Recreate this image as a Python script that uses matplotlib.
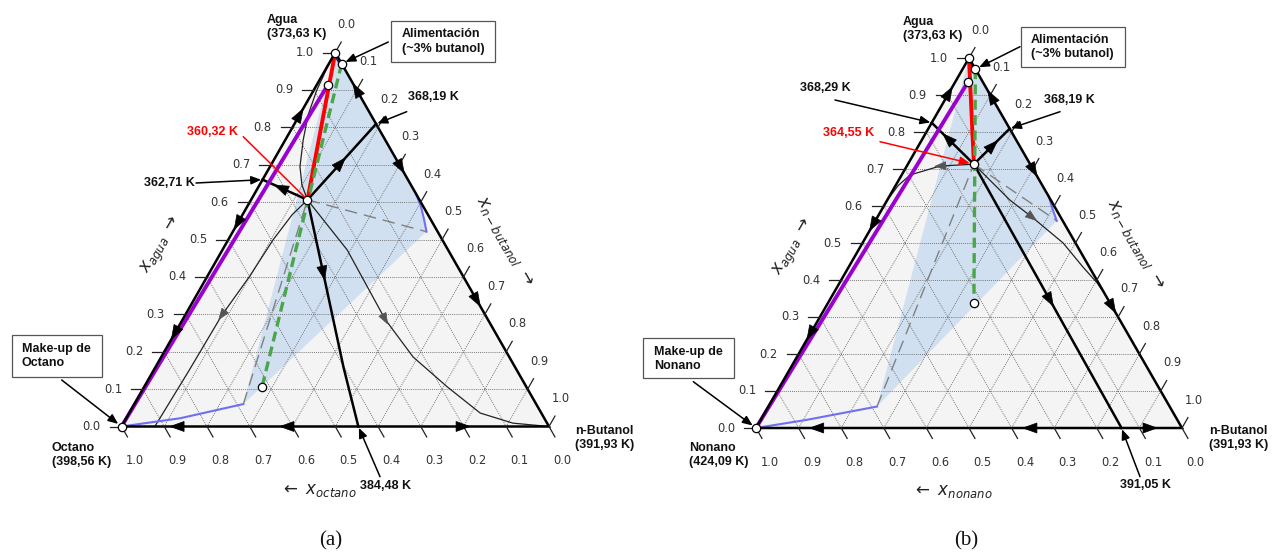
import numpy as np
import matplotlib
matplotlib.use("Agg")
import matplotlib.pyplot as plt
from matplotlib.patches import Polygon, Rectangle

plt.rcParams['font.family'] = ['DejaVu Sans']
plt.rcParams['mathtext.fontset'] = 'dejavusans'

FIG_W, FIG_H = 1276, 554

ticks = [round(0.1 * i, 1) for i in range(11)]
tick_labels = [f'{t:.1f}' for t in ticks]

# Compositions are (x_agua, x_n-butanol); the alkane fraction is the remainder.
# ---------------- panel (a): agua / n-butanol / octano ----------------
a_feed = (0.97, 0.03)
a_makeup = (0.913, 0.026)
a_az_tern = (0.606, 0.132)
a_mix_end = (0.105, 0.276)
a_az_wb = (0.809, 0.191)
a_az_wa = (0.66, 0.0)
a_az_ba = (0.0, 0.554)
a_bin_aq = [(0.624, 0.376), (0.590, 0.405), (0.555, 0.430), (0.521, 0.453)]
a_bin_org = [(0.0, 0.0), (0.022, 0.126), (0.060, 0.255)]
a_bin_top = [(1.0, 0.0), (0.985, 0.010), (0.965, 0.030)]
a_bnd_ba = [(0.606, 0.132), (0.410, 0.267), (0.160, 0.439), (0.0, 0.554)]
a_rc_top = [(1.0, 0.0), (0.953, 0.002), (0.900, 0.007), (0.833, 0.020),
            (0.766, 0.042), (0.695, 0.070), (0.646, 0.099), (0.606, 0.132)]
a_rc_left = [(0.606, 0.132), (0.566, 0.116), (0.499, 0.105), (0.402, 0.099),
             (0.298, 0.086), (0.146, 0.083), (0.0, 0.078)]
a_rc_right = [(0.606, 0.132), (0.472, 0.292), (0.287, 0.473), (0.186, 0.589),
              (0.106, 0.709), (0.036, 0.821), (0.009, 0.911), (0.0, 1.0)]
a_arrows_left_edge = [(0.833, 1), (0.544, -1), (0.25, -1)]
a_arrows_right_edge = [(0.90, 1), (0.694, -1), (0.338, -1)]
a_arrows_bottom_edge = [(0.13, -1), (0.387, -1), (0.799, 1)]
a_arrow_bnd_wb = (0.705, 0.159)
a_arrow_bnd_wa = (0.638, 0.054)
a_arrow_bnd_ba = (0.410, 0.267)
a_arrow_rc_left = (0.298, 0.086)
a_arrow_rc_right = (0.287, 0.473)

# ---------------- panel (b): agua / n-butanol / nonano ----------------
b_feed = (0.97, 0.03)
b_makeup = (0.936, 0.030)
b_az_tern = (0.713, 0.155)
b_mix_end = (0.339, 0.342)
b_az_wb = (0.809, 0.191)
b_az_wa = (0.825, 0.0)
b_az_ba = (0.0, 0.858)
b_bin_aq = [(0.625, 0.375), (0.592, 0.400), (0.560, 0.426)]
b_bin_org = [(0.0, 0.0), (0.022, 0.108), (0.058, 0.255)]
b_bin_top = [(1.0, 0.0), (0.985, 0.010), (0.965, 0.030)]
b_bnd_ba = [(0.713, 0.155), (0.0, 0.858)]
b_rc_top = []
b_rc_left = [(0.713, 0.155), (0.708, 0.078), (0.684, 0.020), (0.655, 0.006),
             (0.62, 0.001), (0.55, 0.0)]
b_rc_right = [(0.713, 0.155), (0.616, 0.288), (0.570, 0.363), (0.500, 0.471),
              (0.435, 0.550), (0.392, 0.605), (0.36, 0.64)]
b_arrows_left_edge = [(0.905, 1), (0.55, -1), (0.256, -1)]
b_arrows_right_edge = [(0.895, 1), (0.697, -1), (0.328, -1)]
b_arrows_bottom_edge = [(0.1425, -1), (0.643, -1), (0.925, 1)]
b_arrow_bnd_wb = (0.765, 0.171)
b_arrow_bnd_wa = (0.778, 0.058)
b_arrow_bnd_ba = (0.346, 0.517)
b_arrow_rc_left = (0.711, 0.077)
b_arrow_rc_right = (0.570, 0.363)


def cart(w, b):
    return (b + 0.5 * w, w)


def cart_list(pts):
    arr = np.asarray(pts, float)
    return arr[:, 1] + 0.5 * arr[:, 0], arr[:, 0]


def fp(x, y):
    return (x / FIG_W, 1 - y / FIG_H)


def shift(ax, xy, dx, dy):
    d = ax.transData.transform(xy)
    return ax.transData.inverted().transform((d[0] + dx, d[1] - dy))


def head(ax, pts, at, sense=1, L=14, W=10, color='k', z=6):
    xy = np.array([cart(*p) for p in pts])
    disp = ax.transData.transform(xy)
    q = ax.transData.transform(cart(*at))
    best = None
    for i in range(len(disp) - 1):
        p0, p1 = disp[i], disp[i + 1]
        d = p1 - p0
        t = np.clip(np.dot(q - p0, d) / np.dot(d, d), 0, 1)
        proj = p0 + t * d
        dist = np.linalg.norm(q - proj)
        if best is None or dist < best[0]:
            best = (dist, proj, d / np.linalg.norm(d))
    _, c, u = best
    u = u * sense
    n = np.array([-u[1], u[0]])
    tip = c + u * L / 2
    base = c - u * L / 2
    tri = np.array([tip, base + n * W / 2, base - n * W / 2])
    ax.add_patch(Polygon(ax.transData.inverted().transform(tri), closed=True,
                         fc=color, ec=color, lw=0.5, zorder=z))


def line(ax, pts, **kw):
    x, y = cart_list(pts)
    ax.plot(x, y, **kw)


def draw_panel(ax, feed, makeup, az_tern, mix_end, az_wb, az_wa, az_ba,
               bin_aq, bin_org, bin_top, bnd_ba, rc_top, rc_left, rc_right,
               ar_left, ar_right, ar_bottom, ar_wb, ar_wa, ar_ba, ar_rl, ar_rr):
    W, O, B = (1.0, 0.0), (0.0, 0.0), (0.0, 1.0)
    ax.add_patch(Polygon([cart(*W), cart(*O), cart(*B)], closed=True,
                         fc='#f4f4f4', ec='none', zorder=0))
    shade = [W] + bin_aq + [bin_org[-1]]
    ax.add_patch(Polygon([cart(*p) for p in shade], closed=True,
                         fc='#d1e0f0', ec='none', zorder=1))
    for v in ticks[1:-1]:
        for seg in ([(v, 0), (v, 1 - v)], [(0, v), (1 - v, v)], [(0, 1 - v), (1 - v, 0)]):
            line(ax, seg, color='#666666', lw=0.65, ls=(0, (1, 1.3)), zorder=2)

    # residue curves
    for rc in (rc_top, rc_left, rc_right):
        if rc:
            line(ax, rc, color='#222222', lw=0.9, zorder=3)
    # tie lines of the heterogeneous azeotrope
    line(ax, [az_tern, bin_aq[-1]], color='#808080', lw=1.0, dashes=(9, 5), zorder=3)
    line(ax, [bin_org[-1], az_tern], color='#808080', lw=1.0, dashes=(9, 5), zorder=3)
    # binodal
    line(ax, bin_aq, color='#6f6ff2', lw=1.5, zorder=3)
    line(ax, bin_org, color='#6f6ff2', lw=1.5, zorder=3)
    line(ax, bin_top, color='#1a1a80', lw=1.2, zorder=3)
    # distillation boundaries
    line(ax, [az_tern, az_wb], color='k', lw=1.8, zorder=4)
    line(ax, [az_tern, az_wa], color='k', lw=1.8, zorder=4)
    line(ax, bnd_ba, color='k', lw=1.8, zorder=4)
    # decanter / column lines
    line(ax, [makeup, O], color='#9a00cf', lw=2.8, zorder=4)
    line(ax, [W, az_tern], color='#ff0000', lw=2.8, zorder=4.5)
    line(ax, [feed, mix_end], color='#4aa64a', lw=2.4, dashes=(3, 1.6), zorder=4.6)
    # triangle frame
    x, y = cart_list([W, O, B, W])
    ax.plot(x, y, color='k', lw=1.8, zorder=5, solid_joinstyle='miter')

    # direction arrows
    for v, s in ar_left:
        head(ax, [O, W], (v, 0.0), s)
    for v, s in ar_right:
        head(ax, [B, W], (v, 1 - v), s)
    for v, s in ar_bottom:
        head(ax, [O, B], (0.0, v), s)
    head(ax, [az_tern, az_wb], ar_wb, 1)
    head(ax, [az_tern, az_wa], ar_wa, 1)
    head(ax, bnd_ba, ar_ba, 1)
    head(ax, rc_left, ar_rl, 1, L=11, W=8, color='#555555')
    head(ax, rc_right, ar_rr, 1, L=11, W=8, color='#555555')

    # composition markers
    for p in (W, feed, makeup, az_tern, mix_end, O):
        ax.plot(*cart(*p), 'o', ms=6, mfc='white', mec='k', mew=0.9, zorder=7)

    # ticks and tick labels
    tk = dict(color='#222222', lw=0.9, zorder=5, clip_on=False)
    lab = dict(fontsize=8.3, color='#333333', ha='center', va='center')
    for v, t in zip(ticks, tick_labels):
        p = cart(v, 0.0)
        q = shift(ax, p, -12, 0)
        ax.plot([p[0], q[0]], [p[1], q[1]], **tk)
        ax.text(*shift(ax, p, -30, 0), t, **lab)
        p = cart(0.0, 1 - v)
        q = shift(ax, p, 0.496 * 12, 0.868 * 12)
        ax.plot([p[0], q[0]], [p[1], q[1]], **tk)
        ax.text(*shift(ax, p, 13.5, 34.5), t, **lab)
        p = cart(1 - v, v)
        q = shift(ax, p, 0.496 * 12, -0.868 * 12)
        ax.plot([p[0], q[0]], [p[1], q[1]], **tk)
        ax.text(*shift(ax, p, 11.5, -28), t, **lab)


fig = plt.figure(figsize=(FIG_W / 100, FIG_H / 100), dpi=100)
ax_a = fig.add_axes([0, 0, 0.5, 1])
ax_b = fig.add_axes([0.5, 0, 0.5, 1])
ax_a.set_xlim((0 - 121.5) / 427.5, (638 - 121.5) / 427.5)
ax_a.set_ylim((426.5 - 554) / 374, 426.5 / 374)
ax_b.set_xlim((638 - 756) / 426, (1276 - 756) / 426)
ax_b.set_ylim((428 - 554) / 370, 428 / 370)
for ax in (ax_a, ax_b):
    ax.set_axis_off()

draw_panel(ax_a, a_feed, a_makeup, a_az_tern, a_mix_end, a_az_wb, a_az_wa, a_az_ba,
           a_bin_aq, a_bin_org, a_bin_top, a_bnd_ba, a_rc_top, a_rc_left, a_rc_right,
           a_arrows_left_edge, a_arrows_right_edge, a_arrows_bottom_edge,
           a_arrow_bnd_wb, a_arrow_bnd_wa, a_arrow_bnd_ba, a_arrow_rc_left, a_arrow_rc_right)
draw_panel(ax_b, b_feed, b_makeup, b_az_tern, b_mix_end, b_az_wb, b_az_wa, b_az_ba,
           b_bin_aq, b_bin_org, b_bin_top, [b_az_tern, b_az_ba], b_rc_top, b_rc_left, b_rc_right,
           b_arrows_left_edge, b_arrows_right_edge, b_arrows_bottom_edge,
           b_arrow_bnd_wb, b_arrow_bnd_wa, b_arrow_bnd_ba, b_arrow_rc_left, b_arrow_rc_right)

BOLD = dict(family=['Liberation Sans', 'DejaVu Sans'], fontweight='bold', fontsize=9,
            color='#111111', ha='left', va='center', linespacing=1.25)


def label(x, y, s, **kw):
    opts = dict(BOLD)
    opts.update(kw)
    fig.text(*fp(x, y), s, **opts)


def box(x0, y0, x1, y1):
    fig.patches.append(Rectangle(fp(x0, y1), (x1 - x0) / FIG_W, (y1 - y0) / FIG_H,
                                 transform=fig.transFigure, fc='white', ec='#555555',
                                 lw=0.9, zorder=2))


def leader(ax, x, y, target, color='k', arrow=True, shrink=3):
    style = '-|>,head_length=0.6,head_width=0.25' if arrow else '-'
    ax.annotate('', xy=cart(*target), xycoords='data', xytext=fp(x, y),
                textcoords='figure fraction',
                arrowprops=dict(arrowstyle=style, color=color, lw=1.1, mutation_scale=10,
                                shrinkA=0, shrinkB=shrink), zorder=8)


# axis titles
AX = dict(fontsize=12, ha='center', va='center', color='#222222')
fig.text(*fp(162, 245), r'$x_{agua}\ \rightarrow$', rotation=60, **AX)
fig.text(*fp(505, 241), r'$x_{n-butanol}\ \rightarrow$', rotation=-60, **AX)
fig.text(*fp(318, 490), r'$\leftarrow\ x_{octano}$', **AX)
fig.text(*fp(794, 247), r'$x_{agua}\ \rightarrow$', rotation=60, **AX)
fig.text(*fp(1136, 244), r'$x_{n-butanol}\ \rightarrow$', rotation=-60, **AX)
fig.text(*fp(952, 491), r'$\leftarrow\ x_{nonano}$', **AX)

# panel (a) annotations
label(266.7, 27, 'Agua\n(373,63 K)')
label(51.7, 455, 'Octano\n(398,56 K)')
label(575, 438, 'n-Butanol\n(391,93 K)')
label(408.3, 97, '368,19 K')
label(144, 183.3, '362,71 K')
label(187.3, 131.7, '360,32 K', color='#ff0000')
label(360, 486, '384,48 K')
box(390.7, 20.7, 495, 61.7)
label(401.7, 41.5, 'Alimentación\n(~3% butanol)')
box(11.7, 335, 102.3, 376.7)
label(21.7, 355.8, 'Make-up de\nOctano')
leader(ax_a, 388.3, 42, a_feed)
leader(ax_a, 406.7, 111.7, a_az_wb, shrink=1)
leader(ax_a, 196, 183, a_az_wa, shrink=1)
leader(ax_a, 243.3, 136.7, a_az_tern, color='#ff0000', arrow=False)
leader(ax_a, 380, 476.7, a_az_ba, shrink=1)
leader(ax_a, 61.7, 380, (0.0, 0.0))

# panel (b) annotations
label(902.7, 29, 'Agua\n(373,63 K)')
label(689.3, 455.3, 'Nonano\n(424,09 K)')
label(1209.3, 438, 'n-Butanol\n(391,93 K)')
label(1044, 100, '368,19 K')
label(800, 88, '368,29 K')
label(823.3, 133.3, '364,55 K', color='#ff0000')
label(1120, 485, '391,05 K')
box(1020.7, 26.7, 1125, 66.7)
label(1030.7, 47, 'Alimentación\n(~3% butanol)')
box(643.3, 338.3, 734.3, 378.3)
label(654, 358.7, 'Make-up de\nNonano')
leader(ax_b, 1020, 46.7, b_feed)
leader(ax_b, 1060, 111.7, b_az_wb, shrink=1)
leader(ax_b, 835, 100, b_az_wa, shrink=1)
leader(ax_b, 880, 141.7, b_az_tern, color='#ff0000')
leader(ax_b, 1140, 476.7, b_az_ba, shrink=1)
leader(ax_b, 693.3, 381.7, (0.0, 0.0))

SERIF = dict(family=['Liberation Serif', 'DejaVu Serif'], fontsize=15,
             ha='center', va='center', color='#111111')
fig.text(*fp(330.5, 541), '(a)', **SERIF)
fig.text(*fp(966, 541), '(b)', **SERIF)

fig.savefig('out.png', dpi=100)
